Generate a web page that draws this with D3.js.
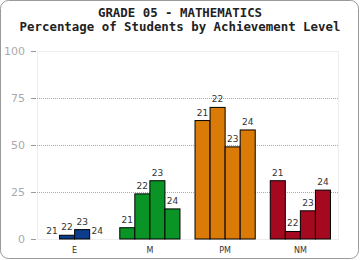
<!DOCTYPE html>
<html>
<head>
<meta charset="utf-8">
<script src="https://cdn.jsdelivr.net/npm/d3@7"></script>
<style>
  body { margin: 0; background: #fff; }
</style>
</head>
<body>
<div class="container"></div>
<script>
const levels = ["E", "M", "PM", "NM"];
const years = ["21", "22", "23", "24"];
const colors = ["#0b3d8c", "#0b9426", "#d97b06", "#a5091f"];
// percentage of students per level, one value per year 21..24
const valuesE = [0, 2, 5, 0];
const valuesM = [6, 24, 31, 16];
const valuesPM = [63, 70, 49, 58];
const valuesNM = [31, 4, 15, 26];
const yTicks = [0, 25, 50, 75, 100];

const series = [valuesE, valuesM, valuesPM, valuesNM];

const margin = {top: 51, bottom: 21, right: 22, left: 37},
width = 360 - margin.left - margin.right,
height = 260 - margin.top - margin.bottom;

const svg = d3
.select(".container")
.append("svg")
.attr("width", 360)
.attr("height", 260);

svg.append("rect")
    .attr("x", 0.5)
    .attr("y", 0.5)
    .attr("width", 358)
    .attr("height", 258)
    .attr("rx", 8)
    .attr("fill", "#fff")
    .attr("stroke", "#9a9a9a");

const titles = ["GRADE 05 - MATHEMATICS", "Percentage of Students by Achievement Level"];

svg.selectAll(".title")
    .data(titles)
    .join("text")
    .attr("class", "title")
    .attr("x", 180)
    .attr("y", (d, i) => i === 0 ? 16.5 : 31)
    .attr("text-anchor", "middle")
    .attr("font-family", "DejaVu Sans Mono")
    .attr("font-weight", "bold")
    .attr("font-size", 12.4)
    .attr("fill", "#222")
    .text(d => d);

const group = svg
.append('g')
.attr('transform', 'translate(' + margin.left + ',' + margin.top + ')');

const x_scale = d3.scaleBand()
    .domain(levels)
    .range([0, width])
    .paddingInner(0.2)
    .paddingOuter(0.1);

const x_inner = d3.scaleBand()
    .domain(years)
    .range([0, x_scale.bandwidth()]);

const y_scale = d3.scaleLinear()
    .domain([0, 100])
    .range([height, 0]);

// plot frame
group.append("rect")
    .attr("x", 0.5)
    .attr("y", 0.5)
    .attr("width", width)
    .attr("height", height)
    .attr("fill", "none")
    .attr("stroke", "#eeeeee");

const y_axis = d3.axisLeft()
    .scale(y_scale)
    .tickValues(yTicks)
    .tickSize(5)
    .tickPadding(6);

group.append("g")
    .attr("class", "axis y-axis")
    .attr("transform", "translate(-1,0)")
    .call(y_axis)
    .call(g => g.select(".domain").remove())
    .call(g => g.selectAll(".tick line").attr("stroke", "#999"))
    .call(g => g.selectAll(".tick text")
        .attr("fill", "#aaa")
        .attr("font-family", "DejaVu Sans")
        .attr("font-size", 11));

group.append("g")
    .selectAll("line")
    .data(yTicks.filter(d => d > 0 && d < 100))
    .join("line")
    .attr("x1", 0)
    .attr("x2", width)
    .attr("y1", d => Math.round(y_scale(d)) + 0.5)
    .attr("y2", d => Math.round(y_scale(d)) + 0.5)
    .attr("stroke", "#aaa")
    .attr("stroke-dasharray", "1,1");

const x_axis = d3.axisBottom()
    .scale(x_scale)
    .tickSize(0)
    .tickPadding(8);

group.append("g")
    .attr("class", "axis x-axis")
    .attr("transform", `translate(0, ${height})`)
    .call(x_axis)
    .call(g => g.select(".domain").remove())
    .call(g => g.selectAll(".tick text")
        .attr("fill", "#333")
        .attr("font-family", "DejaVu Sans")
        .attr("font-size", 8));

const bars = group.selectAll(".level")
    .data(levels)
    .join("g")
    .attr("class", "level")
    .attr("transform", d => `translate(${x_scale(d)},0)`);

bars.selectAll("rect")
    .data((d, i) => series[i].map((v, j) => ({year: years[j], value: v, color: colors[i]})))
    .join("rect")
    .filter(d => d.value > 0)
    .attr("x", d => x_inner(d.year))
    .attr("y", d => y_scale(d.value))
    .attr("width", x_inner.bandwidth())
    .attr("height", d => height - y_scale(d.value))
    .attr("fill", d => d.color)
    .attr("stroke", "#000")
    .attr("stroke-width", 1);

bars.selectAll("text")
    .data((d, i) => series[i].map((v, j) => ({year: years[j], value: v})))
    .join("text")
    .attr("x", d => x_inner(d.year) + x_inner.bandwidth() / 2)
    .attr("y", d => y_scale(d.value) - 5)
    .attr("text-anchor", "middle")
    .attr("font-family", "DejaVu Sans")
    .attr("font-size", 9)
    .attr("fill", "#333")
    .text(d => d.year);
</script>
</body>
</html>
